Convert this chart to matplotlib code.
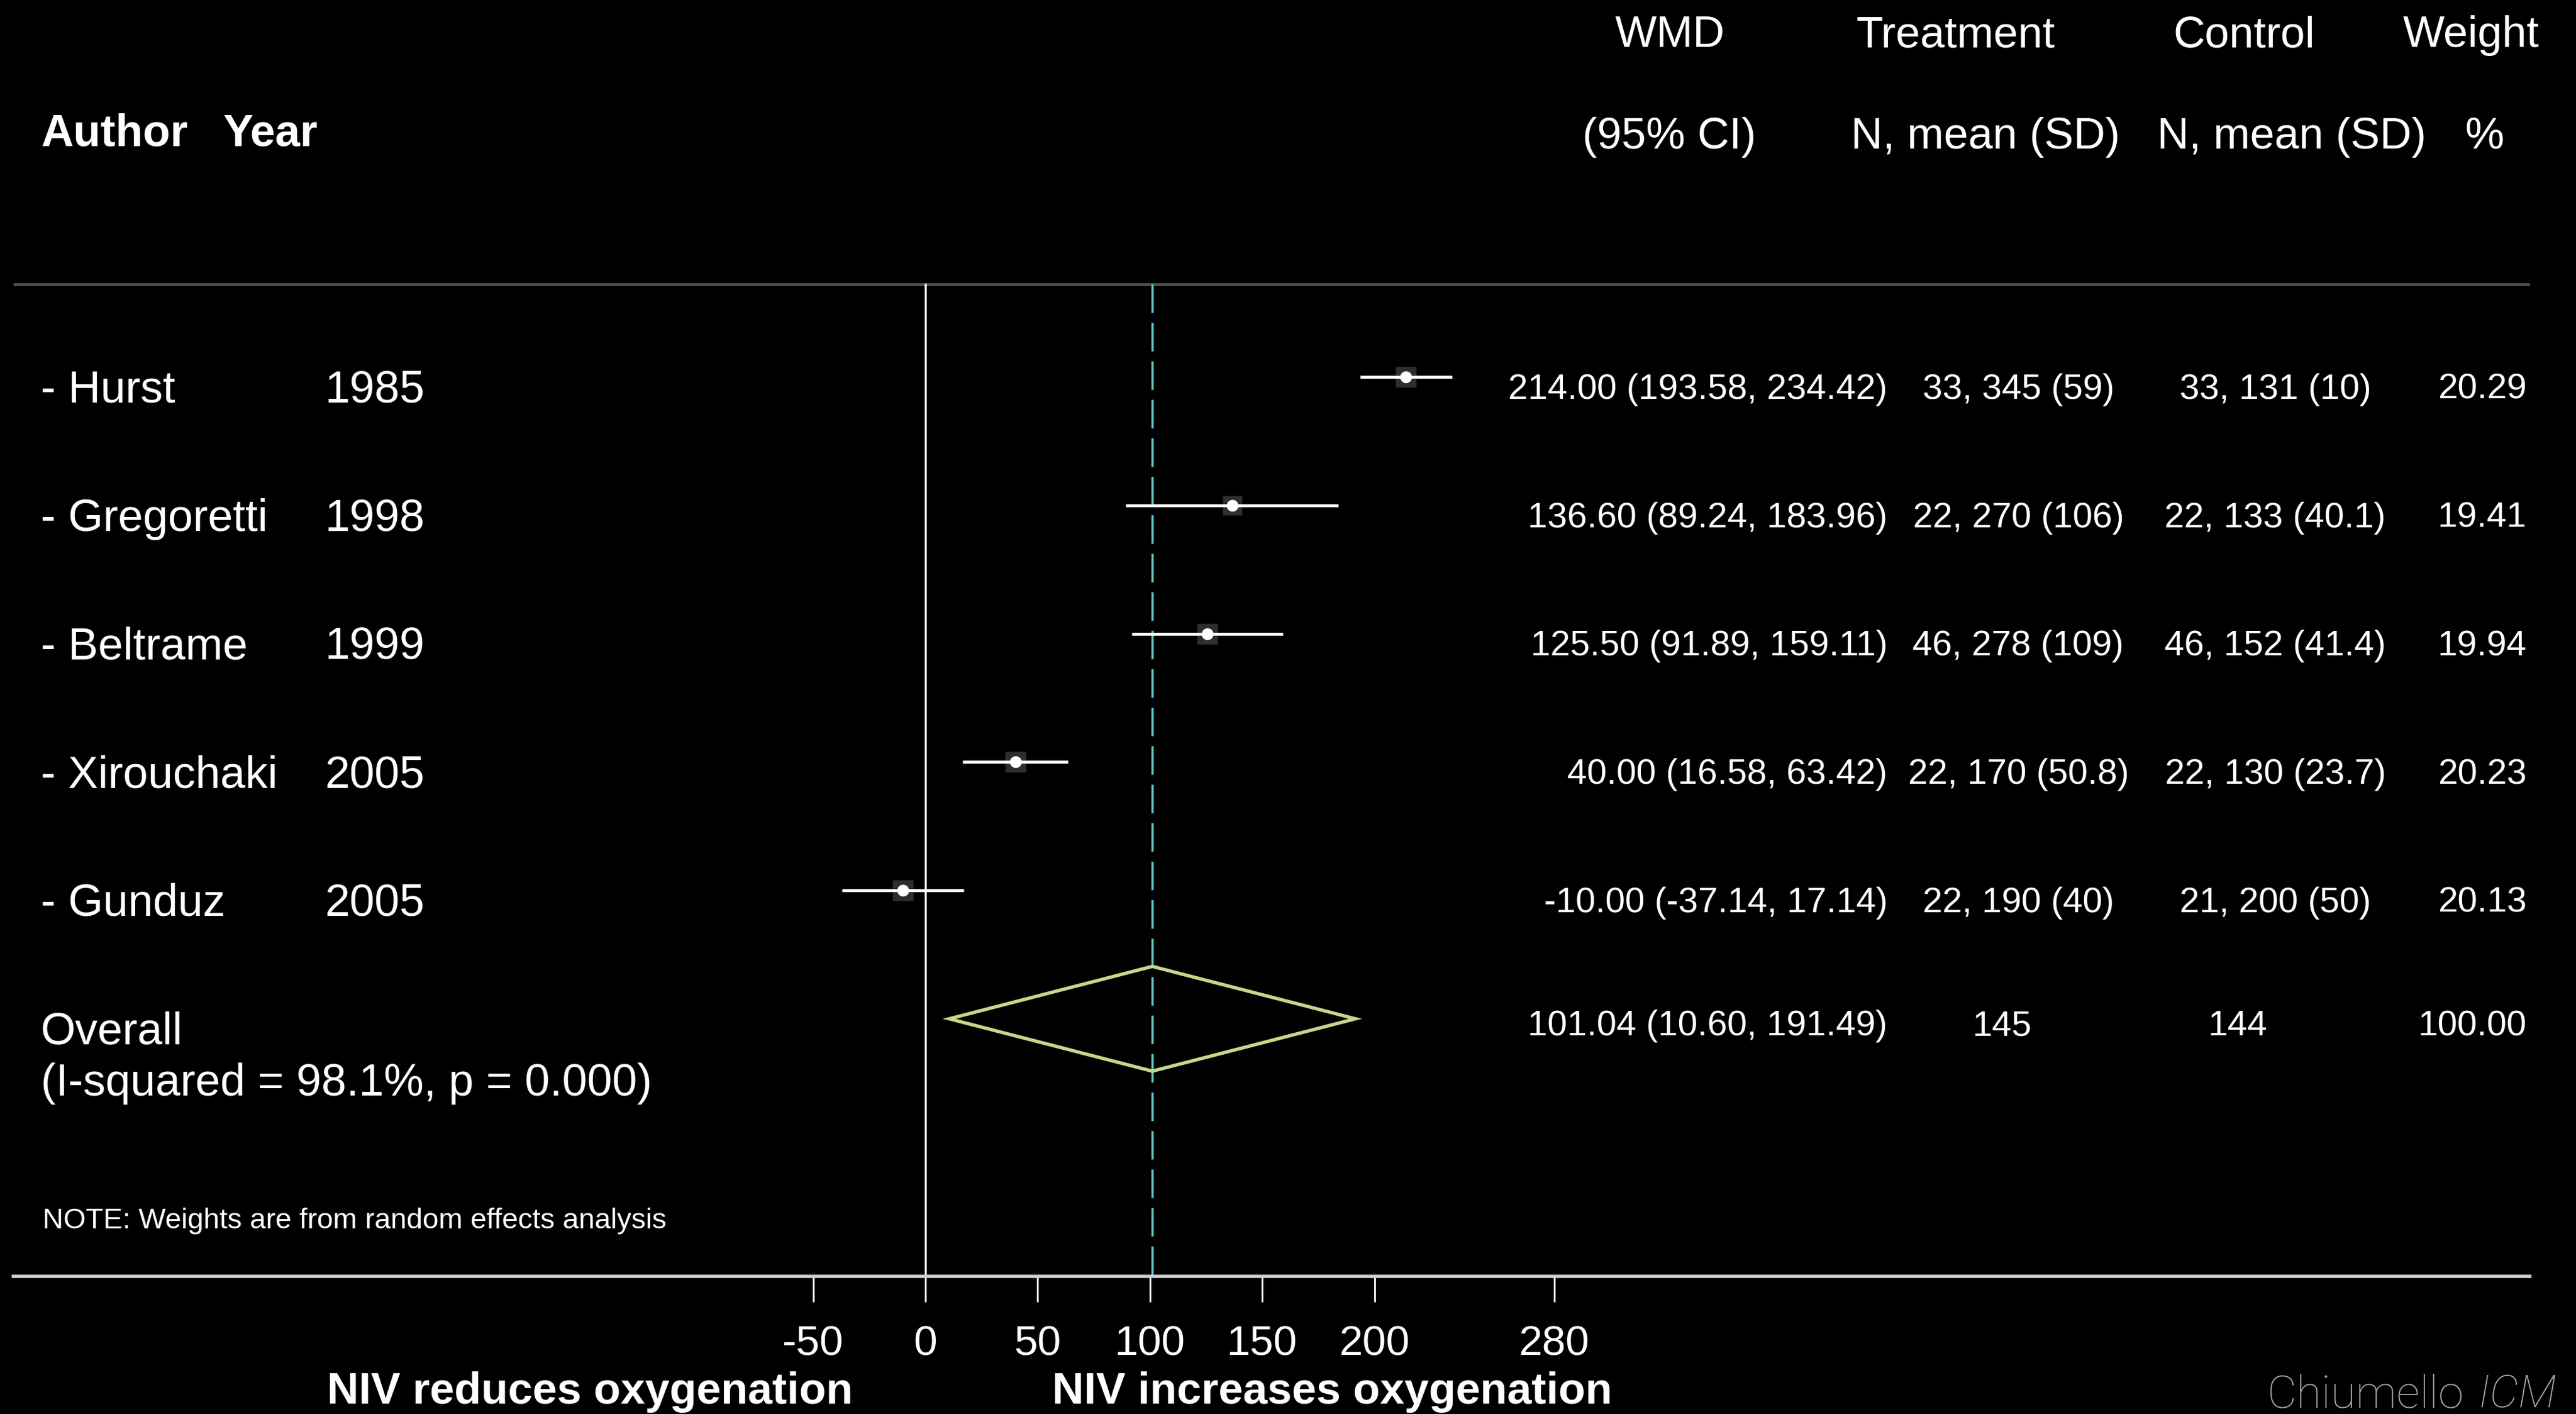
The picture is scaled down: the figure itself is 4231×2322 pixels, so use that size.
import numpy as np
import matplotlib
matplotlib.use("Agg")
import matplotlib.pyplot as plt
import matplotlib.transforms as mtransforms
from matplotlib.patches import Polygon

plt.rcParams['font.family'] = ['Liberation Sans', 'DejaVu Sans']

# study level results (weighted mean difference in PaO2/FiO2)
authors = ["Hurst", "Gregoretti", "Beltrame", "Xirouchaki", "Gunduz"]
years = [1985, 1998, 1999, 2005, 2005]
wmd = [214.00, 136.60, 125.50, 40.00, -10.00]
ci_low = [193.58, 89.24, 91.89, 16.58, -37.14]
ci_high = [234.42, 183.96, 159.11, 63.42, 17.14]
treat = ["33, 345 (59)", "22, 270 (106)", "46, 278 (109)", "22, 170 (50.8)", "22, 190 (40)"]
control = ["33, 131 (10)", "22, 133 (40.1)", "46, 152 (41.4)", "22, 130 (23.7)", "21, 200 (50)"]
weights = [20.29, 19.41, 19.94, 20.23, 20.13]

# pooled random effects estimate
overall_wmd = 101.04
overall_low = 10.60
overall_high = 191.49
overall_treat_n = 145
overall_control_n = 144
overall_weight = 100.00
i_squared = 98.1
p_het = 0.000

xticks = [-50, 0, 50, 100, 150, 200, 280]

W, H = 4231, 2322
fig = plt.figure(figsize=(W / 100, H / 100), dpi=100, facecolor='black')
ax = fig.add_axes([0, 0, 1, 1])
ax.set_facecolor('black')
ax.axis('off')

# effect scale: 0 sits at x=1520px, 3.688 px per unit
x0_px, px_per_unit = 1520, 3.688
row0_px, row_px = 619, 210.8
xlim = (-x0_px / px_per_unit, (W - x0_px) / px_per_unit)
ax.set_xlim(*xlim)
ax.set_ylim((H - row0_px) / row_px, -row0_px / row_px)


def px_x(px):
    return (px - x0_px) / px_per_unit


def px_row(py):
    return (py - row0_px) / row_px


def fy(py):
    return 1 - py / H


top_rule = px_row(467)
axis_row = px_row(2096)

# horizontal rule under the header
ax.plot([px_x(22), px_x(4155)], [top_rule, top_rule], color='#4e4e4e', lw=3.5,
        solid_capstyle='butt')

# null line and pooled estimate line
ax.plot([0, 0], [top_rule, axis_row], color='white', lw=2.5)
ax.plot([overall_wmd, overall_wmd], [top_rule, axis_row], color='#5ccaca', lw=2.6,
        dashes=(13, 4.5))

# study boxes, confidence intervals and point estimates
for i in range(len(authors)):
    ax.plot(wmd[i], i, marker='s', ms=24 * np.sqrt(weights[i] / 20), color='#2e2e2e',
            mec='none', zorder=3)
    ax.plot([ci_low[i], ci_high[i]], [i, i], color='white', lw=3.5,
            solid_capstyle='butt', zorder=4)
    ax.plot(wmd[i], i, 'o', ms=14, color='white', mec='none', zorder=5)

n = len(authors)
half_h = 0.408
diamond = Polygon([(overall_low, n), (overall_wmd, n - half_h), (overall_high, n),
                   (overall_wmd, n + half_h)], closed=True, fill=False,
                  edgecolor='#c5d88a', lw=4, joinstyle='miter', zorder=4)
ax.add_patch(diamond)

# x axis drawn as its own axes at the bottom rule
ax2 = fig.add_axes([0, fy(2096), 1, 1e-6])
ax2.set_xlim(*xlim)
ax2.patch.set_alpha(0)
for side in ['top', 'left', 'right']:
    ax2.spines[side].set_visible(False)
ax2.spines['bottom'].set_color('#cfcfcf')
ax2.spines['bottom'].set_linewidth(4)
ax2.spines['bottom'].set_bounds(px_x(22), px_x(4155))
ax2.set_yticks([])
ax2.set_xticks(xticks)
ax2.set_xticklabels([str(t) for t in xticks])
ax2.tick_params(axis='x', length=30, width=2, color='white', labelcolor='white',
                labelsize=50, pad=27)

trans = mtransforms.blended_transform_factory(fig.transFigure, ax.transData)
txt = dict(color='white', va='center_baseline', transform=trans)
lab_size, num_size = 53, 42

for i in range(n):
    y = i + 0.07
    ax.text(67 / W, y, f"- {authors[i]}", fontsize=lab_size, ha='left', **txt)
    ax.text(533 / W, y, str(years[i]), fontsize=lab_size, ha='left', **txt)
    ax.text(3100 / W, y, f"{wmd[i]:.2f} ({ci_low[i]:.2f}, {ci_high[i]:.2f})",
            fontsize=num_size, ha='right', **txt)
    ax.text(3315 / W, y, treat[i], fontsize=num_size, ha='center', **txt)
    ax.text(3737 / W, y, control[i], fontsize=num_size, ha='center', **txt)
    ax.text(4150 / W, y, f"{weights[i]:.2f}", fontsize=num_size, ha='right', **txt)

# overall row
ax.text(67 / W, n + 0.07, "Overall", fontsize=lab_size, ha='left', **txt)
ax.text(67 / W, n + 0.47, f"(I-squared = {i_squared:.1f}%, p = {p_het:.3f})",
        fontsize=lab_size, ha='left', **txt)
ax.text(3100 / W, n + 0.03, f"{overall_wmd:.2f} ({overall_low:.2f}, {overall_high:.2f})",
        fontsize=num_size, ha='right', **txt)
ax.text(3288 / W, n + 0.03, str(overall_treat_n), fontsize=num_size, ha='center', **txt)
ax.text(3675 / W, n + 0.03, str(overall_control_n), fontsize=num_size, ha='center', **txt)
ax.text(4150 / W, n + 0.03, f"{overall_weight:.2f}", fontsize=num_size, ha='right', **txt)

# column headers
hdr = dict(color='white', va='center_baseline', ha='center', fontsize=52)
fig.text(2743 / W, fy(51), "WMD", **hdr)
fig.text(2742 / W, fy(218), "(95% CI)", **hdr)
fig.text(3212 / W, fy(51), "Treatment", **hdr)
fig.text(3261 / W, fy(218), "N, mean (SD)", **hdr)
fig.text(3686 / W, fy(51), "Control", **hdr)
fig.text(3764 / W, fy(218), "N, mean (SD)", **hdr)
fig.text(4059 / W, fy(51), "Weight", **hdr)
fig.text(4081 / W, fy(218), "%", **hdr)
fig.text(67 / W, fy(213), "Author", color='white', va='center_baseline', ha='left',
         fontsize=53, fontweight='bold')
fig.text(367 / W, fy(213), "Year", color='white', va='center_baseline', ha='left',
         fontsize=53, fontweight='bold')

fig.text(70 / W, fy(2000), "NOTE: Weights are from random effects analysis", color='white',
         va='center_baseline', ha='left', fontsize=34)

# direction labels under the axis
fig.text(969 / W, fy(2279), "NIV reduces oxygenation", color='white', ha='center',
         va='center_baseline', fontsize=52, fontweight='bold')
fig.text(2188 / W, fy(2279), "NIV increases oxygenation", color='white', ha='center',
         va='center_baseline', fontsize=52, fontweight='bold')

# source credit in the bottom right corner
fig.text(3724 / W, fy(2312), "Chiumello", color='#a6a6a6', ha='left', va='baseline',
         fontsize=54, family=['Roboto', 'DejaVu Sans'], fontweight='light')
fig.text(4070 / W, fy(2312), "ICM", color='#a6a6a6', ha='left', va='baseline',
         fontsize=54, family=['Roboto', 'DejaVu Sans'], fontweight='light', style='italic')

fig.savefig("out.png", dpi=100, facecolor='black')
